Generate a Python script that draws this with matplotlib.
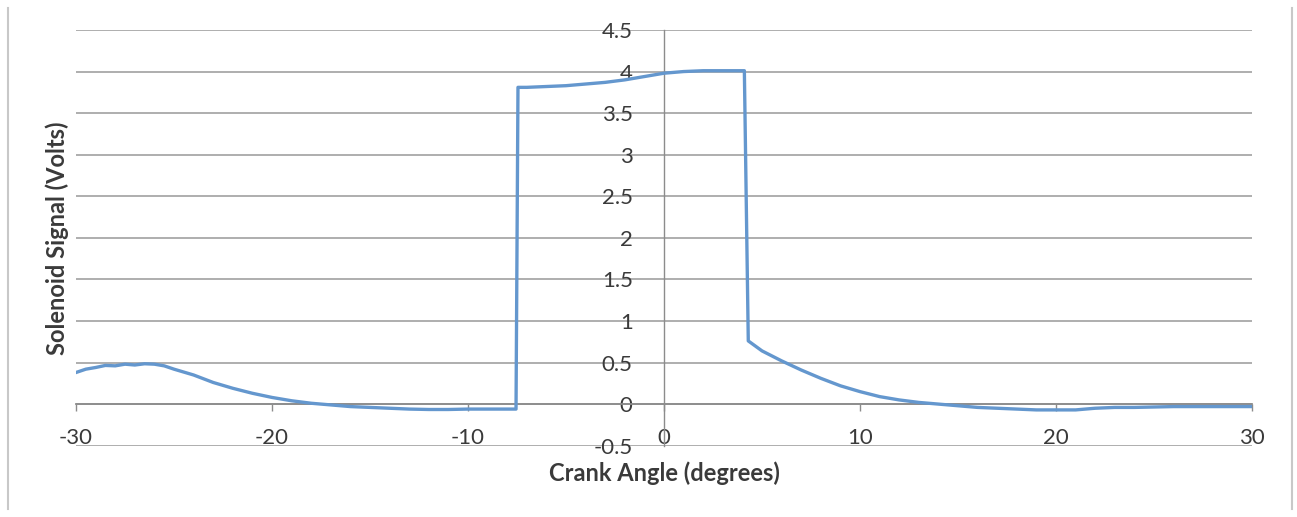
import matplotlib as mpl
import matplotlib.pyplot as plt
from matplotlib.lines import Line2D

# crank angle (deg) vs solenoid signal (V)
angle = [-30, -29.5, -29, -28.5, -28, -27.5, -27, -26.5, -26, -25.5, -25,
         -24, -23, -22, -21, -20, -19, -18, -17, -16, -15, -14, -13, -12,
         -11, -10, -9, -8, -7.55, -7.45, -7, -6, -5, -4, -3, -2, -1, 0,
         1, 2, 3, 4.1, 4.3, 5, 6, 7, 8, 9, 10, 11, 12, 13, 14, 15, 16,
         17, 18, 19, 20, 21, 22, 23, 24, 26, 28, 30]
signal = [0.38, 0.42, 0.44, 0.465, 0.46, 0.48, 0.47, 0.485, 0.48, 0.46, 0.42,
          0.35, 0.26, 0.19, 0.13, 0.08, 0.04, 0.01, -0.01, -0.03, -0.04, -0.05, -0.06, -0.065,
          -0.065, -0.06, -0.06, -0.06, -0.06, 3.81, 3.81, 3.82, 3.83, 3.85, 3.87, 3.90, 3.94, 3.98,
          4.00, 4.01, 4.01, 4.01, 0.76, 0.64, 0.52, 0.41, 0.31, 0.22, 0.15, 0.09, 0.05, 0.02, 0.0, -0.02, -0.04,
          -0.05, -0.06, -0.07, -0.07, -0.07, -0.05, -0.04, -0.04, -0.03, -0.03, -0.03]

xticks = [-30, -20, -10, 0, 10, 20, 30]
yticks = [-0.5, 0, 0.5, 1, 1.5, 2, 2.5, 3, 3.5, 4, 4.5]
ytick_labels = ["-0.5", "0", "0.5", "1", "1.5", "2", "2.5", "3", "3.5", "4", "4.5"]

mpl.rcParams.update({
    "font.family": ["Lato", "DejaVu Sans"],
    "font.size": 15,
})

COL_LINE = "#6497CE"
COL_GRID = "#A8A8A8"
COL_AXIS = "#8C8C8C"
COL_TEXT = "#3A3A3A"

fig = plt.figure(figsize=(12.97, 5.17), dpi=100)
ax = fig.add_axes([0.0586, 0.138, 0.9067, 0.804])

ax.set_xlim(-30, 30)
ax.set_ylim(-0.5, 4.5)

ax.yaxis.grid(True, color=COL_GRID, lw=1.3)
ax.set_axisbelow(True)

for s in ["right", "bottom"]:
    ax.spines[s].set_visible(False)
# y axis crosses at x=0, x axis line at y=0 (drawn with the top spine)
ax.spines["left"].set_position(("data", 0))
ax.spines["left"].set_color(COL_AXIS)
ax.spines["left"].set_linewidth(1.0)
ax.spines["top"].set_position(("data", 0))
ax.spines["top"].set_color(COL_AXIS)
ax.spines["top"].set_linewidth(1.3)

ax.plot(angle, signal, color=COL_LINE, lw=2.4, solid_joinstyle="round", zorder=3)

ax.set_xticks(xticks)
ax.set_xticklabels([str(t) for t in xticks])
ax.set_yticks(yticks)
ax.set_yticklabels(ytick_labels)

ax.tick_params(axis="x", bottom=False, top=True, labelbottom=True, labeltop=False,
               direction="in", length=5, width=1.0, color=COL_AXIS,
               pad=-13, labelsize=16, labelcolor=COL_TEXT)
ax.tick_params(axis="y", left=False, pad=19, labelsize=16, labelcolor=COL_TEXT)
for lab in ax.get_yticklabels():
    lab.set_horizontalalignment("right")

ax.set_xlabel("Crank Angle (degrees)", fontsize=17, fontweight="bold", color=COL_TEXT)
ax.xaxis.set_label_coords(0.5, -0.038)
ax.set_ylabel("Solenoid Signal (Volts)", fontsize=17, fontweight="bold", color=COL_TEXT)
ax.yaxis.set_label_coords(-0.006, 0.5)

# chart-area border (left and right edges visible)
fig.add_artist(Line2D([0.0065, 0.0065], [0.015, 0.985], transform=fig.transFigure,
                      color="#C8C8C8", lw=1.5))
fig.add_artist(Line2D([0.9965, 0.9965], [0.015, 0.985], transform=fig.transFigure,
                      color="#C8C8C8", lw=1.5))

fig.savefig("out.png", dpi=100)
